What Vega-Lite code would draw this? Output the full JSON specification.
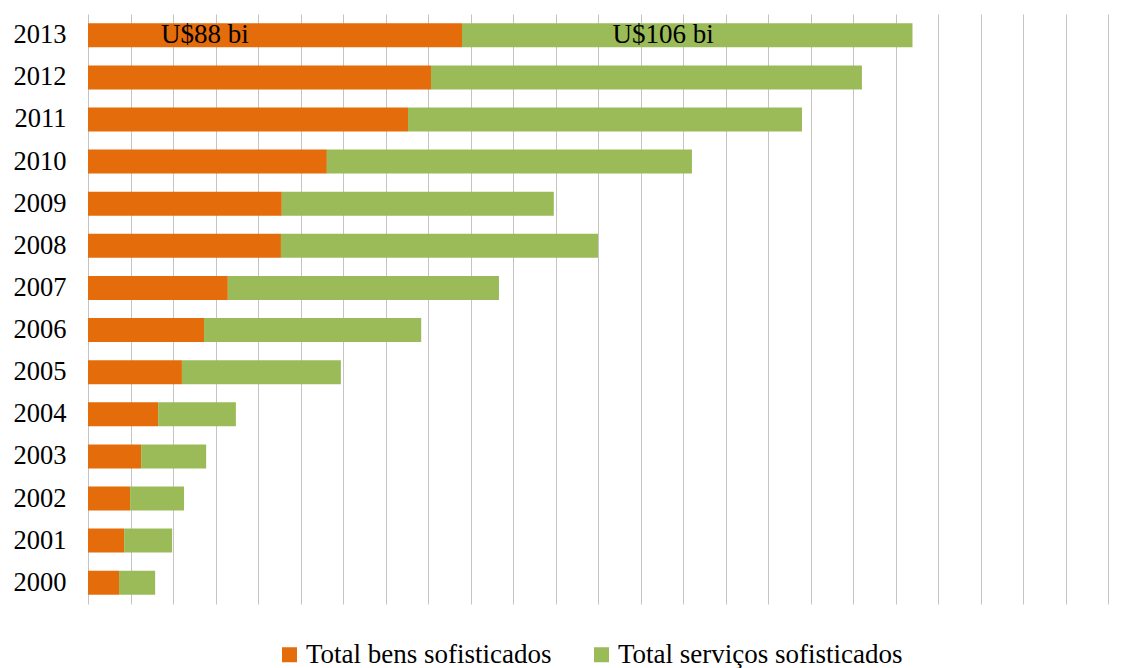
{
  "$schema": "https://vega.github.io/schema/vega-lite/v6.json",
  "autosize": "none",
  "width": 1020,
  "height": 590,
  "padding": {"left": 88, "top": 14, "right": 30, "bottom": 64},
  "background": "white",
  "config": {
    "view": {"stroke": null},
    "font": "Liberation Serif"
  },
  "datasets": {
    "bars": [
      {"year": "2013", "serie": "Total bens sofisticados", "ord": 1, "valor": 88},
      {"year": "2013", "serie": "Total serviços sofisticados", "ord": 2, "valor": 106},
      {"year": "2012", "serie": "Total bens sofisticados", "ord": 1, "valor": 80.7},
      {"year": "2012", "serie": "Total serviços sofisticados", "ord": 2, "valor": 101.4},
      {"year": "2011", "serie": "Total bens sofisticados", "ord": 1, "valor": 75.3},
      {"year": "2011", "serie": "Total serviços sofisticados", "ord": 2, "valor": 92.7},
      {"year": "2010", "serie": "Total bens sofisticados", "ord": 1, "valor": 56.2},
      {"year": "2010", "serie": "Total serviços sofisticados", "ord": 2, "valor": 85.9},
      {"year": "2009", "serie": "Total bens sofisticados", "ord": 1, "valor": 45.6},
      {"year": "2009", "serie": "Total serviços sofisticados", "ord": 2, "valor": 64.0},
      {"year": "2008", "serie": "Total bens sofisticados", "ord": 1, "valor": 45.4},
      {"year": "2008", "serie": "Total serviços sofisticados", "ord": 2, "valor": 74.6},
      {"year": "2007", "serie": "Total bens sofisticados", "ord": 1, "valor": 32.9},
      {"year": "2007", "serie": "Total serviços sofisticados", "ord": 2, "valor": 63.8},
      {"year": "2006", "serie": "Total bens sofisticados", "ord": 1, "valor": 27.3},
      {"year": "2006", "serie": "Total serviços sofisticados", "ord": 2, "valor": 51.1},
      {"year": "2005", "serie": "Total bens sofisticados", "ord": 1, "valor": 22.1},
      {"year": "2005", "serie": "Total serviços sofisticados", "ord": 2, "valor": 37.4},
      {"year": "2004", "serie": "Total bens sofisticados", "ord": 1, "valor": 16.5},
      {"year": "2004", "serie": "Total serviços sofisticados", "ord": 2, "valor": 18.3},
      {"year": "2003", "serie": "Total bens sofisticados", "ord": 1, "valor": 12.5},
      {"year": "2003", "serie": "Total serviços sofisticados", "ord": 2, "valor": 15.3},
      {"year": "2002", "serie": "Total bens sofisticados", "ord": 1, "valor": 9.9},
      {"year": "2002", "serie": "Total serviços sofisticados", "ord": 2, "valor": 12.7},
      {"year": "2001", "serie": "Total bens sofisticados", "ord": 1, "valor": 8.5},
      {"year": "2001", "serie": "Total serviços sofisticados", "ord": 2, "valor": 11.3},
      {"year": "2000", "serie": "Total bens sofisticados", "ord": 1, "valor": 7.3},
      {"year": "2000", "serie": "Total serviços sofisticados", "ord": 2, "valor": 8.5}
    ],
    "labels": [
      {"year": "2013", "label": "U$88 bi", "pos": 27.5},
      {"year": "2013", "label": "U$106 bi", "pos": 135.3}
    ]
  },
  "encoding": {
    "y": {
      "field": "year",
      "type": "ordinal",
      "sort": "descending",
      "scale": {"paddingInner": 0.43, "paddingOuter": 0.22},
      "axis": {
        "title": null,
        "domain": false,
        "ticks": false,
        "labelFont": "Liberation Serif",
        "labelFontSize": 26.5,
        "labelColor": "#000000",
        "labelPadding": 22
      }
    }
  },
  "layer": [
    {
      "data": {"name": "bars"},
      "mark": {"type": "bar"},
      "encoding": {
        "x": {
          "field": "valor",
          "type": "quantitative",
          "stack": "zero",
          "scale": {"domain": [0, 240], "nice": false, "zero": true},
          "axis": {
            "title": null,
            "labels": false,
            "ticks": false,
            "domain": false,
            "grid": true,
            "gridColor": "#c4c4c4",
            "gridWidth": 1,
            "values": [0,10,20,30,40,50,60,70,80,90,100,110,120,130,140,150,160,170,180,190,200,210,220,230,240]
          }
        },
        "color": {
          "field": "serie",
          "type": "nominal",
          "scale": {
            "domain": ["Total bens sofisticados", "Total serviços sofisticados"],
            "range": ["#E46C0A", "#9BBB59"]
          },
          "legend": {
            "title": null,
            "orient": "none",
            "direction": "horizontal",
            "legendX": 188,
            "legendY": 627,
            "symbolType": "square",
            "symbolSize": 225,
            "symbolStrokeWidth": 0,
            "labelFont": "Liberation Serif",
            "labelFontSize": 27,
            "labelColor": "#000000",
            "labelOffset": 3,
            "columnPadding": 36,
            "labelLimit": 400
          }
        },
        "order": {"field": "ord", "type": "quantitative"}
      }
    },
    {
      "data": {"name": "labels"},
      "mark": {"type": "text", "font": "Liberation Serif", "fontSize": 27, "color": "#000000", "align": "center", "baseline": "middle"},
      "encoding": {
        "x": {"field": "pos", "type": "quantitative"},
        "text": {"field": "label"}
      }
    }
  ]
}
